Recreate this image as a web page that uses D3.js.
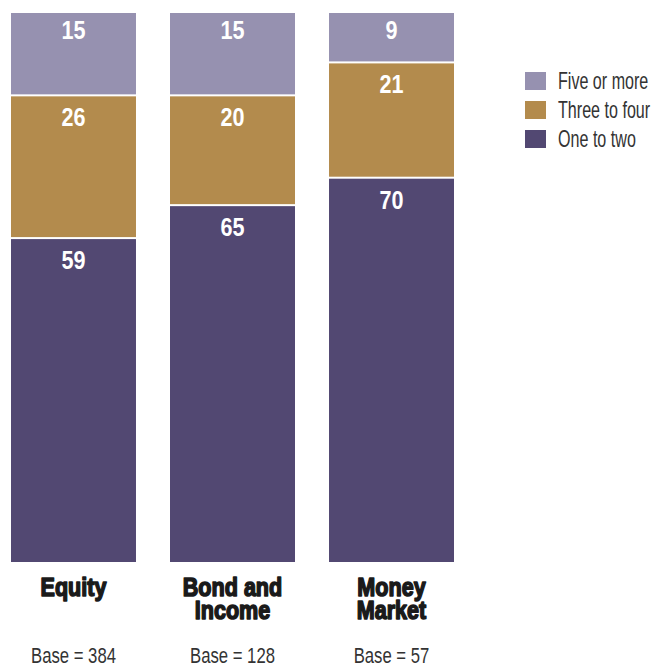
<!DOCTYPE html>
<html>
<head>
<meta charset="utf-8">
<script src="https://cdn.jsdelivr.net/npm/d3@7"></script>
<style>
  body { margin: 0; background: #fff; }
  text { font-family: "Liberation Sans", Arial, sans-serif; }
</style>
</head>
<body>
<div id="chart"></div>
<script>
// categories and values (percent)
const categories = ["Equity", "Bond and Income", "Money Market"];
const catLines = [["Equity"], ["Bond and", "Income"], ["Money", "Market"]];
const bases = [384, 128, 57];
const oneToTwo = [59, 65, 70];
const threeToFour = [26, 20, 21];
const fiveOrMore = [15, 15, 9];

const keys = ["One to two", "Three to four", "Five or more"];
const colors = ["#524872", "#b38b4d", "#9691b0"];

const data = categories.map((c, i) => ({
    cat: c,
    "One to two": oneToTwo[i],
    "Three to four": threeToFour[i],
    "Five or more": fiveOrMore[i]
}));

const width = 652, height = 664;

const svg = d3.select("#chart")
    .append("svg")
    .attr("width", width)
    .attr("height", height);

const x = d3.scaleBand()
    .domain(categories)
    .range([11, 454])
    .paddingInner(0.214)
    .paddingOuter(0);

const y = d3.scaleLinear()
    .domain([0, 100])
    .range([562, 13]);

const color = d3.scaleOrdinal().domain(keys).range(colors);

const stacked = d3.stack().keys(keys)(data);

// center of a bar
const cx = d => x(d) + x.bandwidth() / 2;

// bars
const layers = svg.append("g")
    .selectAll("g")
    .data(stacked)
    .join("g")
    .attr("fill", d => color(d.key));

layers.selectAll("rect")
    .data(d => d)
    .join("rect")
    .attr("x", d => x(d.data.cat))
    .attr("width", x.bandwidth())
    .attr("y", d => y(d[1]) + (d[1] < 100 ? 1 : 0))
    .attr("height", d => (y(d[0]) - (d[0] > 0 ? 1 : 0)) - (y(d[1]) + (d[1] < 100 ? 1 : 0)));

// value labels (squeezed horizontally for a condensed look)
layers.selectAll("g")
    .data(d => d.map(v => ({v, key: d.key})))
    .join("g")
    .attr("transform", d => `translate(${cx(d.v.data.cat)}, ${y(d.v[1]) + (d.v[1] < 100 ? 31 : 26)}) scale(0.83, 1)`)
    .append("text")
    .attr("text-anchor", "middle")
    .attr("fill", "#fff")
    .attr("font-weight", "bold")
    .attr("font-size", 26)
    .text(d => d.v.data[d.key]);

// category labels
svg.append("g")
    .selectAll("g")
    .data(categories)
    .join("g")
    .attr("transform", d => `translate(${cx(d)}, 0) scale(0.83, 1)`)
    .selectAll("text")
    .data((d, i) => catLines[i])
    .join("text")
    .attr("y", (d, i) => 596 + i * 23)
    .attr("text-anchor", "middle")
    .attr("font-weight", "bold")
    .attr("font-size", 26)
    .attr("fill", "#1a1a1a")
    .attr("stroke", "#1a1a1a")
    .attr("stroke-width", 1.6)
    .attr("stroke-linejoin", "round")
    .text(d => d);

// base labels
svg.append("g")
    .selectAll("g")
    .data(categories)
    .join("g")
    .attr("transform", d => `translate(${cx(d)}, 663) scale(0.76, 1)`)
    .append("text")
    .attr("text-anchor", "middle")
    .attr("font-size", 22)
    .attr("fill", "#333")
    .text((d, i) => "Base = " + bases[i]);

// legend (top to bottom: five or more, three to four, one to two)
const legendKeys = keys.slice().reverse();
const legend = svg.append("g")
    .selectAll("g")
    .data(legendKeys)
    .join("g")
    .attr("transform", (d, i) => `translate(525, ${72 + i * 29})`);

legend.append("rect")
    .attr("width", 21)
    .attr("height", 18)
    .attr("fill", d => color(d));

legend.append("g")
    .attr("transform", "translate(33, 17) scale(0.7, 1)")
    .append("text")
    .attr("font-size", 23)
    .attr("fill", "#333")
    .text(d => d);
</script>
</body>
</html>
